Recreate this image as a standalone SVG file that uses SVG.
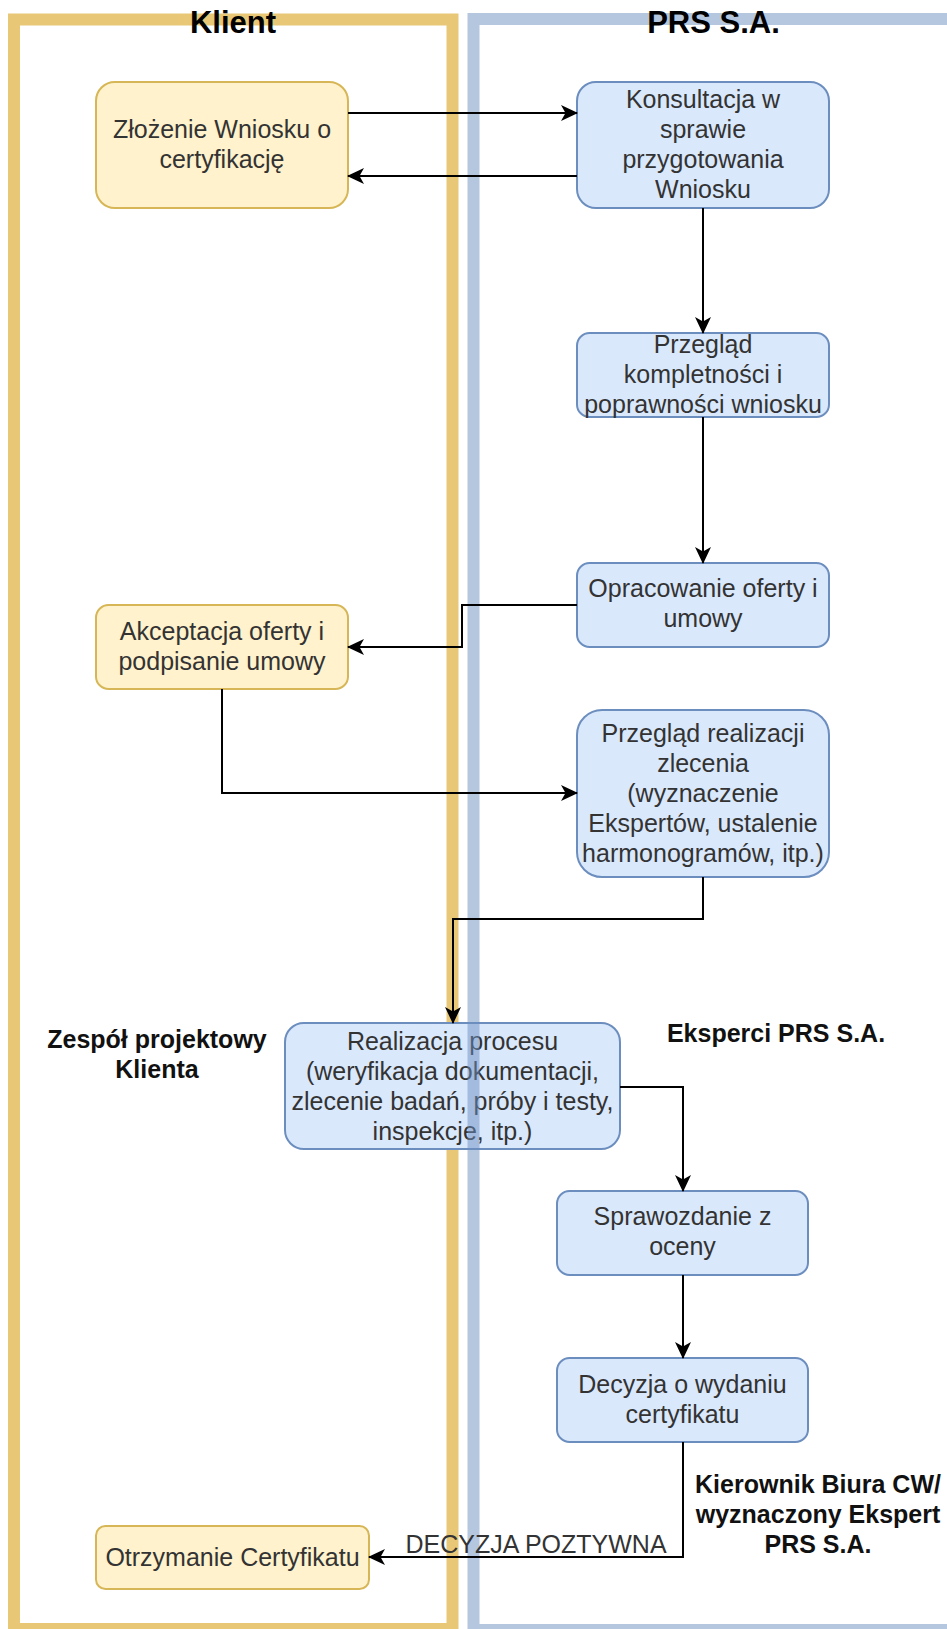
<svg xmlns="http://www.w3.org/2000/svg" width="947" height="1629" viewBox="0 0 947 1629">
<style>
.lane{fill:none;stroke-width:12}
.y{fill:#fff2cc;stroke:#d6b656;stroke-width:2}
.b{fill:#dae8fc;stroke:#6c8ebf;stroke-width:2}
.t{font-family:"Liberation Sans",Arial,sans-serif;font-size:25px;fill:#333333;text-anchor:middle}
.h{font-family:"Liberation Sans",Arial,sans-serif;font-size:31px;font-weight:bold;fill:#000;text-anchor:middle}
.lb{font-family:"Liberation Sans",Arial,sans-serif;font-size:25px;font-weight:bold;fill:#111;text-anchor:middle}
.c{fill:none;stroke:#000;stroke-width:2;marker-end:url(#arr)}
</style>
<defs>
<marker id="arr" markerUnits="userSpaceOnUse" viewBox="0 0 17 16" markerWidth="17" markerHeight="16" refX="16" refY="8" orient="auto">
<path d="M0,0 L17,8 L0,16 L4.5,8 Z" fill="#000"/>
</marker>
</defs>
<rect width="947" height="1629" fill="#fff"/>
<g id="lane-klient">
<rect class="lane" x="14" y="19.5" width="438.5" height="1609.5" stroke="#e8c876"/>
</g>
<g id="n-zlozenie"><rect class="y" x="96" y="82" width="252" height="126" rx="18.9"/>
<text class="t" x="222"><tspan x="222" y="138">Złożenie Wniosku o</tspan><tspan x="222" y="168">certyfikację</tspan></text></g>
<g id="n-konsultacja"><rect class="b" x="577" y="82" width="252" height="126" rx="18.9"/>
<text class="t"><tspan x="703" y="108">Konsultacja w</tspan><tspan x="703" y="138">sprawie</tspan><tspan x="703" y="168">przygotowania</tspan><tspan x="703" y="198">Wniosku</tspan></text></g>
<g id="n-przeglad"><rect class="b" x="577" y="333" width="252" height="84" rx="12.6"/>
<text class="t"><tspan x="703" y="353">Przegląd</tspan><tspan x="703" y="383">kompletności i</tspan><tspan x="703" y="413">poprawności wniosku</tspan></text></g>
<g id="n-opracowanie"><rect class="b" x="577" y="563" width="252" height="84" rx="12.6"/>
<text class="t"><tspan x="703" y="597">Opracowanie oferty i</tspan><tspan x="703" y="627">umowy</tspan></text></g>
<g id="n-akceptacja"><rect class="y" x="96" y="605" width="252" height="84" rx="12.6"/>
<text class="t"><tspan x="222" y="640">Akceptacja oferty i</tspan><tspan x="222" y="670">podpisanie umowy</tspan></text></g>
<g id="n-przeglad-realizacji"><rect class="b" x="577" y="710" width="252" height="167" rx="25"/>
<text class="t"><tspan x="703" y="742">Przegląd realizacji</tspan><tspan x="703" y="772">zlecenia</tspan><tspan x="703" y="802">(wyznaczenie</tspan><tspan x="703" y="832">Ekspertów, ustalenie</tspan><tspan x="703" y="862">harmonogramów, itp.)</tspan></text></g>
<g id="n-realizacja"><rect class="b" x="285" y="1023" width="335" height="126" rx="18.9"/>
<text class="t"><tspan x="452.5" y="1050">Realizacja procesu</tspan><tspan x="452.5" y="1080">(weryfikacja dokumentacji,</tspan><tspan x="452.5" y="1110">zlecenie badań, próby i testy,</tspan><tspan x="452.5" y="1140">inspekcje, itp.)</tspan></text></g>
<g id="n-sprawozdanie"><rect class="b" x="557" y="1191" width="251" height="84" rx="12.6"/>
<text class="t"><tspan x="682.5" y="1225">Sprawozdanie z</tspan><tspan x="682.5" y="1255">oceny</tspan></text></g>
<g id="n-decyzja"><rect class="b" x="557" y="1358" width="251" height="84" rx="12.6"/>
<text class="t"><tspan x="682.5" y="1393">Decyzja o wydaniu</tspan><tspan x="682.5" y="1423">certyfikatu</tspan></text></g>
<g id="n-otrzymanie"><rect class="y" x="96" y="1526" width="273" height="63" rx="9.5"/>
<text class="t" x="232.5" y="1566">Otrzymanie Certyfikatu</text></g>
<g id="lane-prs">
<rect class="lane" x="473.5" y="19" width="490" height="1611" stroke="#6c8ebf" stroke-opacity="0.5"/>
</g>
<g id="connectors">
<path class="c" d="M348,113 L577,113"/>
<path class="c" d="M577,176 L348,176"/>
<path class="c" d="M703,208 L703,333"/>
<path class="c" d="M703,417 L703,563"/>
<path class="c" d="M577,605 L462,605 L462,647 L348,647"/>
<path class="c" d="M222,689 L222,793 L577,793"/>
<path class="c" d="M703,877 L703,919 L453,919 L453,1023"/>
<path class="c" d="M620,1087 L683,1087 L683,1191"/>
<path class="c" d="M683,1275 L683,1358"/>
<path class="c" d="M683,1442 L683,1557 L369,1557"/>
</g>
<g id="labels">
<text class="h" x="233" y="33">Klient</text>
<text class="h" x="713.5" y="33">PRS S.A.</text>
<text class="lb"><tspan x="157" y="1048">Zespół projektowy</tspan><tspan x="157" y="1078">Klienta</tspan></text>
<text class="lb" x="776" y="1042">Eksperci PRS S.A.</text>
<text class="lb"><tspan x="818" y="1493">Kierownik Biura CW/</tspan><tspan x="818" y="1523">wyznaczony Ekspert</tspan><tspan x="818" y="1553">PRS S.A.</tspan></text>
<text class="t" x="536" y="1553">DECYZJA POZTYWNA</text>
</g>
</svg>
